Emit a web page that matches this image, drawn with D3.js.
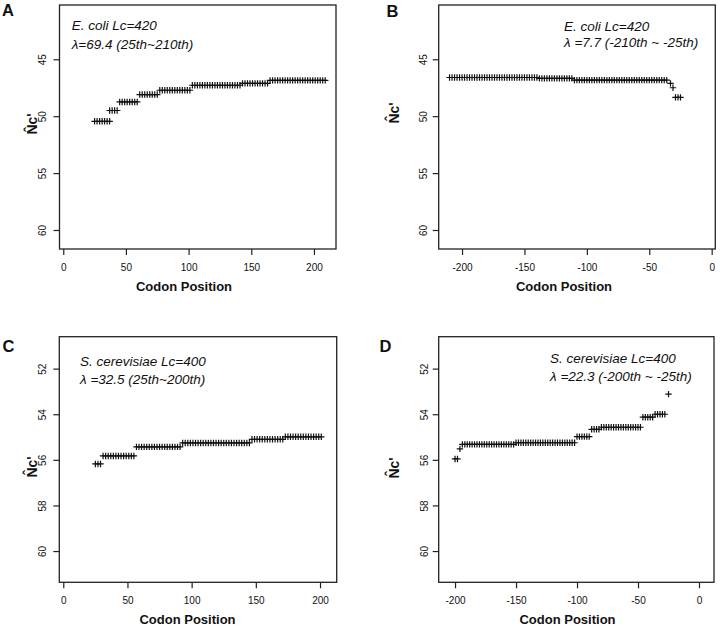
<!DOCTYPE html>
<html>
<head>
<meta charset="utf-8">
<script src="https://cdn.jsdelivr.net/npm/d3@7"></script>
<style>
body { margin: 0; background: #fff; }
text { font-family: 'Liberation Sans', Arial, sans-serif; fill: #111; }
</style>
</head>
<body>
<div id="chart"></div>
<script>
// step runs: first codon, last codon, Nc' level
var aStart = [25, 37, 45, 61, 77, 103, 143, 165];
var aEnd   = [37, 43, 59, 75, 101, 141, 163, 209];
var aNc    = [50.45, 49.5, 48.75, 48.1, 47.72, 47.28, 47.12, 46.85];

var bStart = [-210, -138, -110, -33, -31, -29];
var bEnd   = [-140, -112, -35, -33, -31, -25];
var bNc    = [46.6, 46.68, 46.83, 47.12, 47.5, 48.35];

var cStart = [25, 31, 57, 93, 147, 173];
var cEnd   = [29, 55, 91, 145, 171, 201];
var cNc    = [56.18, 55.83, 55.43, 55.26, 55.1, 54.99];

var dStart = [-200, -196, -194, -150, -100, -88, -80, -46, -36, -25];
var dEnd   = [-198, -196, -152, -102, -90, -82, -48, -38, -27, -25];
var dNc    = [55.96, 55.52, 55.32, 55.25, 54.98, 54.66, 54.57, 54.13, 54.0, 53.12];

var xTicksPos = [0, 50, 100, 150, 200];
var xTicksNeg = [-200, -150, -100, -50, 0];
var yTicksEc = [45, 50, 55, 60];
var yTicksSc = [52, 54, 56, 58, 60];

var notesA = ['E. coli Lc=420', '\u03bb=69.4 (25th~210th)'];
var notesB = ['E. coli Lc=420', '\u03bb =7.7 (-210th ~ -25th)'];
var notesC = ['S. cerevisiae Lc=400', '\u03bb =32.5 (25th~200th)'];
var notesD = ['S. cerevisiae Lc=400', '\u03bb =22.3 (-200th ~ -25th)'];

var panels = [
  {tag: 'A', box: [59.5, 5, 336, 249], xDom: [-3, 217.6], yDom: [40.23, 61.67],
   xTicks: xTicksPos, yTicks: yTicksEc, start: aStart, end: aEnd, nc: aNc, notes: notesA,
   tagXY: [2, 15.5], noteXY: [71.7, 30, 49.3], xlabX: 184, ylabXY: [32.5, 124], yNumX: 42.7},
  {tag: 'B', box: [438.7, 5, 715.3, 249], xDom: [-218.7, 2.9], yDom: [40.23, 61.67],
   xTicks: xTicksNeg, yTicks: yTicksEc, start: bStart, end: bEnd, nc: bNc, notes: notesB,
   tagXY: [386.5, 16.5], noteXY: [564, 30.5, 47], xlabX: 564, ylabXY: [394, 113], yNumX: 423.5},
  {tag: 'C', box: [59.3, 336.7, 336.7, 582.3], xDom: [-3.1, 213], yDom: [50.6, 61.37],
   xTicks: xTicksPos, yTicks: yTicksSc, start: cStart, end: cEnd, nc: cNc, notes: notesC,
   tagXY: [2.5, 351.7], noteXY: [80, 366, 384], xlabX: 187.5, ylabXY: [32, 467], yNumX: 42.5},
  {tag: 'D', box: [438.7, 336.7, 714, 582.3], xDom: [-213.4, 12.3], yDom: [50.6, 61.37],
   xTicks: xTicksNeg, yTicks: yTicksSc, start: dStart, end: dEnd, nc: dNc, notes: notesD,
   tagXY: [379.5, 351.7], noteXY: [550, 363.3, 380.5], xlabX: 567.5, ylabXY: [394, 468], yNumX: 424}
];

var svg = d3.select('#chart').append('svg')
  .attr('width', 720)
  .attr('height', 627);

panels.forEach(function(p) {
  var x = d3.scaleLinear().domain(p.xDom).range([p.box[0], p.box[2]]);
  var y = d3.scaleLinear().domain(p.yDom).range([p.box[1], p.box[3]]);

  // one point per codon (every 2nd) inside each run
  var pts = [];
  p.start.forEach(function(s, i) {
    for (var c = s; c <= p.end[i]; c += 2) pts.push({pos: c, nc: p.nc[i]});
  });

  var g = svg.append('g');

  // plain hyphen for negatives, like R does
  var xAxis = d3.axisBottom(x).tickValues(p.xTicks).tickSize(6).tickPadding(9)
    .tickFormat(function(d) { return String(d); });
  var xg = g.append('g')
    .attr('transform', 'translate(0,' + p.box[3] + ')')
    .call(xAxis);
  xg.select('.domain').remove();
  xg.selectAll('line').attr('stroke', '#222').attr('stroke-width', 1.2);
  xg.selectAll('text').style('font-size', '10px').attr('fill', '#111');

  var yAxis = d3.axisLeft(y).tickValues(p.yTicks).tickSize(6).tickFormat('');
  var yg = g.append('g')
    .attr('transform', 'translate(' + p.box[0] + ',0)')
    .call(yAxis);
  yg.select('.domain').remove();
  yg.selectAll('line').attr('stroke', '#222').attr('stroke-width', 1.2);
  yg.selectAll('.tick').append('text')
    .attr('transform', 'translate(' + (p.yNumX - p.box[0]) + ',0) rotate(-90)')
    .attr('dy', '0.35em')
    .attr('text-anchor', 'middle')
    .attr('fill', '#111')
    .style('font-size', '10px')
    .text(function(d) { return d; });

  g.append('rect')
    .attr('x', p.box[0]).attr('y', p.box[1])
    .attr('width', p.box[2] - p.box[0]).attr('height', p.box[3] - p.box[1])
    .attr('fill', 'none').attr('stroke', '#222').attr('stroke-width', 1.3);

  g.selectAll('.pt')
    .data(pts)
    .enter().append('path')
      .attr('class', 'pt')
      .attr('d', function(d) {
        var px = x(d.pos), py = y(d.nc);
        return 'M' + (px - 3.2) + ',' + py + 'h6.4M' + px + ',' + (py - 3.2) + 'v6.4';
      })
      .attr('stroke', '#111')
      .attr('stroke-width', 1.2)
      .attr('fill', 'none');

  g.append('text')
    .attr('x', p.tagXY[0]).attr('y', p.tagXY[1])
    .style('font-size', '16.5px').style('font-weight', 'bold')
    .text(p.tag);

  g.selectAll('.note')
    .data(p.notes)
    .enter().append('text')
      .attr('class', 'note')
      .attr('x', p.noteXY[0])
      .attr('y', function(d, i) { return p.noteXY[i + 1]; })
      .style('font-size', '13.5px').style('font-style', 'italic')
      .text(function(d) { return d; });

  g.append('text')
    .attr('x', p.xlabX).attr('y', p.box[3] + 42)
    .attr('text-anchor', 'middle')
    .style('font-size', '13px').style('font-weight', 'bold')
    .text('Codon Position');

  g.append('text')
    .attr('transform', 'translate(' + p.ylabXY[0] + ',' + p.ylabXY[1] + ') rotate(-90)')
    .attr('dy', '0.35em')
    .attr('text-anchor', 'middle')
    .style('font-size', '14px').style('font-weight', 'bold')
    .text('N\u0302c\'');
});
</script>
</body>
</html>
